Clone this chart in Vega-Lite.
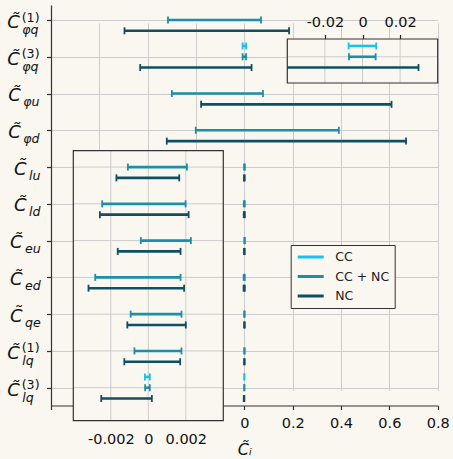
{
  "$schema": "https://vega.github.io/schema/vega-lite/v6.json",
  "width": 386.7,
  "height": 400.5,
  "autosize": {"type": "none"},
  "padding": {"left": 51, "top": 5, "right": 15.3, "bottom": 53.5},
  "background": "#faf7f1",
  "config": {
    "view": {"stroke": null},
    "font": "DejaVu Sans",
    "axis": {"labelFont": "DejaVu Sans", "titleFont": "DejaVu Sans"},
    "tick": {"opacity": 1},
    "rule": {"opacity": 1}
  },
  "datasets": {
    "bars": [
      {"row": 0, "fit": "CC + NC", "lo": -0.316, "hi": 0.069},
      {"row": 0, "fit": "NC", "lo": -0.496, "hi": 0.185},
      {"row": 1, "fit": "CC", "lo": -0.0074, "hi": 0.0073},
      {"row": 1, "fit": "CC + NC", "lo": -0.0072, "hi": 0.0070},
      {"row": 1, "fit": "NC", "lo": -0.431, "hi": 0.0298},
      {"row": 2, "fit": "CC + NC", "lo": -0.300, "hi": 0.077},
      {"row": 2, "fit": "NC", "lo": -0.179, "hi": 0.609},
      {"row": 3, "fit": "CC + NC", "lo": -0.201, "hi": 0.391},
      {"row": 3, "fit": "NC", "lo": -0.321, "hi": 0.669},
      {"row": 4, "fit": "CC + NC", "lo": -0.00109, "hi": 0.00206},
      {"row": 4, "fit": "NC", "lo": -0.00170, "hi": 0.00165},
      {"row": 5, "fit": "CC + NC", "lo": -0.00246, "hi": 0.00199},
      {"row": 5, "fit": "NC", "lo": -0.00258, "hi": 0.00215},
      {"row": 6, "fit": "CC + NC", "lo": -0.00040, "hi": 0.00227},
      {"row": 6, "fit": "NC", "lo": -0.00163, "hi": 0.00172},
      {"row": 7, "fit": "CC + NC", "lo": -0.00283, "hi": 0.00172},
      {"row": 7, "fit": "NC", "lo": -0.00319, "hi": 0.00191},
      {"row": 8, "fit": "CC + NC", "lo": -0.00094, "hi": 0.00177},
      {"row": 8, "fit": "NC", "lo": -0.00112, "hi": 0.00200},
      {"row": 9, "fit": "CC + NC", "lo": -0.00074, "hi": 0.00177},
      {"row": 9, "fit": "NC", "lo": -0.00128, "hi": 0.00170},
      {"row": 10, "fit": "CC", "lo": -0.00018, "hi": 0.00008},
      {"row": 10, "fit": "CC + NC", "lo": -0.00017, "hi": 0.00008},
      {"row": 10, "fit": "NC", "lo": -0.00251, "hi": 0.00019}
    ],
    "labels": [
      {"row": 0, "sub": "φq", "sup": "(1)"},
      {"row": 1, "sub": "φq", "sup": "(3)"},
      {"row": 2, "sub": "φu"},
      {"row": 3, "sub": "φd"},
      {"row": 4, "sub": "lu"},
      {"row": 5, "sub": "ld"},
      {"row": 6, "sub": "eu"},
      {"row": 7, "sub": "ed"},
      {"row": 8, "sub": "qe"},
      {"row": 9, "sub": "lq", "sup": "(1)"},
      {"row": 10, "sub": "lq", "sup": "(3)"}
    ]
  },
  "layer": [
    {
      "layer": [
        {
          "data": {"name": "bars"},
          "layer": [
            {
              "mark": {"type": "rule", "strokeWidth": 2.6, "opacity": 1},
              "encoding": {
                "x": {
                  "field": "lo", "type": "quantitative",
                  "scale": {"domain": [-0.8, 0.8], "nice": false, "zero": false},
                  "axis": {
                    "orient": "bottom",
                    "values": [-0.8, -0.6, -0.4, -0.2, 0, 0.2, 0.4, 0.6, 0.8],
                    "grid": true, "gridColor": "#cccccc", "gridWidth": 1,
                    "domainColor": "#333333", "domainWidth": 1.2,
                    "tickColor": "#333333", "tickSize": 4, "tickWidth": 1.2,
                    "labelExpr": "datum.value < 0 ? '' : format(datum.value, '~g')",
                    "labelFont": "DejaVu Sans", "labelFontSize": 14.5, "labelColor": "#111111",
                    "labelPadding": 6.5, "labelFlush": false, "labelOverlap": false,
                    "title": "C\u0303\u1d62", "titleFont": "DejaVu Sans", "titleFontSize": 16,
                    "titleFontStyle": "italic", "titleFontWeight": "normal", "titleColor": "#111111",
                    "titlePadding": 12
                  }
                },
                "x2": {"field": "hi"},
                "y": {"field": "row", "type": "ordinal", "scale": {"type": "point", "domain": [0, 1, 2, 3, 4, 5, 6, 7, 8, 9, 10], "range": [15, 382.7], "padding": 0}, "axis": null},
                "yOffset": {"field": "fit", "type": "nominal", "scale": {"type": "point", "domain": ["CC", "CC + NC", "NC"], "range": [-10.8, 10.8], "padding": 0}},
                "color": {
                  "field": "fit", "type": "nominal",
                  "scale": {"domain": ["CC", "CC + NC", "NC"], "range": ["#17c3ec", "#1b8ea9", "#0e4f63"]},
                  "legend": {
                    "orient": "none", "legendX": 239.7, "legendY": 240, "title": null,
                    "symbolType": "stroke", "symbolSize": 676, "symbolStrokeWidth": 2.8, "symbolOpacity": 1,
                    "labelFont": "DejaVu Sans", "labelFontSize": 12.5, "labelColor": "#222222",
                    "padding": 5.5, "rowPadding": 6.5, "clipHeight": 13, "labelOffset": 10,
                    "strokeColor": "#333333", "fillColor": "#faf7f1"
                  }
                }
              }
            },
            {
              "mark": {"type": "tick", "orient": "vertical", "size": 7, "thickness": 1.8, "opacity": 1},
              "encoding": {
                "x": {"field": "lo", "type": "quantitative"},
                "y": {"field": "row", "type": "ordinal", "scale": {"type": "point", "domain": [0, 1, 2, 3, 4, 5, 6, 7, 8, 9, 10], "range": [15, 382.7], "padding": 0}, "axis": null},
                "yOffset": {"field": "fit", "type": "nominal", "scale": {"type": "point", "domain": ["CC", "CC + NC", "NC"], "range": [-10.8, 10.8], "padding": 0}},
                "color": {"field": "fit", "type": "nominal"}
              }
            },
            {
              "mark": {"type": "tick", "orient": "vertical", "size": 7, "thickness": 1.8, "opacity": 1},
              "encoding": {
                "x": {"field": "hi", "type": "quantitative"},
                "y": {"field": "row", "type": "ordinal", "scale": {"type": "point", "domain": [0, 1, 2, 3, 4, 5, 6, 7, 8, 9, 10], "range": [15, 382.7], "padding": 0}, "axis": null},
                "yOffset": {"field": "fit", "type": "nominal", "scale": {"type": "point", "domain": ["CC", "CC + NC", "NC"], "range": [-10.8, 10.8], "padding": 0}},
                "color": {"field": "fit", "type": "nominal"}
              }
            }
          ]
        },
        {
          "data": {"name": "labels"},
          "layer": [
            {
              "transform": [{"filter": {"field": "row", "oneOf": [0, 1, 9, 10]}}],
              "mark": {"type": "text", "text": "C\u0303", "font": "DejaVu Sans", "fontSize": 18, "fontStyle": "italic", "align": "left", "baseline": "alphabetic", "dx": -43.7, "dy": 8.3, "color": "#111111"},
              "encoding": {
                "x": {"datum": -0.8, "type": "quantitative"},
                "y": {
                  "field": "row", "type": "quantitative",
                  "scale": {"domain": [-0.408, 10.484], "reverse": true, "nice": false, "zero": false},
                  "axis": {
                    "values": [0, 1, 2, 3, 4, 5, 6, 7, 8, 9, 10],
                    "labels": false, "grid": true, "gridColor": "#cccccc", "gridWidth": 1,
                    "domainColor": "#333333", "domainWidth": 1.2,
                    "tickColor": "#333333", "tickSize": 4.5, "tickWidth": 1.2,
                    "title": null
                  }
                }
              }
            },
            {
              "transform": [{"filter": {"field": "row", "oneOf": [2, 3]}}],
              "mark": {"type": "text", "text": "C\u0303", "font": "DejaVu Sans", "fontSize": 18, "fontStyle": "italic", "align": "left", "baseline": "alphabetic", "dx": -42.7, "dy": 7.5, "color": "#111111"},
              "encoding": {"x": {"datum": -0.8, "type": "quantitative"}, "y": {"field": "row", "type": "quantitative"}}
            },
            {
              "transform": [{"filter": {"field": "row", "oneOf": [6, 7, 8]}}],
              "mark": {"type": "text", "text": "C\u0303", "font": "DejaVu Sans", "fontSize": 18, "fontStyle": "italic", "align": "left", "baseline": "alphabetic", "dx": -41, "dy": 7.5, "color": "#111111"},
              "encoding": {"x": {"datum": -0.8, "type": "quantitative"}, "y": {"field": "row", "type": "quantitative"}}
            },
            {
              "transform": [{"filter": {"field": "row", "oneOf": [4, 5]}}],
              "mark": {"type": "text", "text": "C\u0303", "font": "DejaVu Sans", "fontSize": 18, "fontStyle": "italic", "align": "left", "baseline": "alphabetic", "dx": -37, "dy": 7.5, "color": "#111111"},
              "encoding": {"x": {"datum": -0.8, "type": "quantitative"}, "y": {"field": "row", "type": "quantitative"}}
            },
            {
              "transform": [{"filter": {"field": "row", "oneOf": [0, 1, 9, 10]}}],
              "mark": {"type": "text", "font": "DejaVu Sans", "fontSize": 12.6, "fontStyle": "italic", "align": "left", "baseline": "alphabetic", "dx": -28.8, "dy": 14, "color": "#111111"},
              "encoding": {"x": {"datum": -0.8, "type": "quantitative"}, "y": {"field": "row", "type": "quantitative"}, "text": {"field": "sub"}}
            },
            {
              "transform": [{"filter": {"field": "row", "oneOf": [2, 3]}}],
              "mark": {"type": "text", "font": "DejaVu Sans", "fontSize": 12.6, "fontStyle": "italic", "align": "left", "baseline": "alphabetic", "dx": -27.8, "dy": 12.5, "color": "#111111"},
              "encoding": {"x": {"datum": -0.8, "type": "quantitative"}, "y": {"field": "row", "type": "quantitative"}, "text": {"field": "sub"}}
            },
            {
              "transform": [{"filter": {"field": "row", "oneOf": [6, 7, 8]}}],
              "mark": {"type": "text", "font": "DejaVu Sans", "fontSize": 12.6, "fontStyle": "italic", "align": "left", "baseline": "alphabetic", "dx": -26, "dy": 12.5, "color": "#111111"},
              "encoding": {"x": {"datum": -0.8, "type": "quantitative"}, "y": {"field": "row", "type": "quantitative"}, "text": {"field": "sub"}}
            },
            {
              "transform": [{"filter": {"field": "row", "oneOf": [4, 5]}}],
              "mark": {"type": "text", "font": "DejaVu Sans", "fontSize": 12.6, "fontStyle": "italic", "align": "left", "baseline": "alphabetic", "dx": -22, "dy": 12.5, "color": "#111111"},
              "encoding": {"x": {"datum": -0.8, "type": "quantitative"}, "y": {"field": "row", "type": "quantitative"}, "text": {"field": "sub"}}
            },
            {
              "transform": [{"filter": "isValid(datum.sup)"}],
              "mark": {"type": "text", "font": "DejaVu Sans", "fontSize": 12.6, "align": "left", "baseline": "alphabetic", "dx": -29.3, "dy": 1.5, "color": "#111111"},
              "encoding": {"x": {"datum": -0.8, "type": "quantitative"}, "y": {"field": "row", "type": "quantitative"}, "text": {"field": "sup"}}
            }
          ]
        }
      ],
      "resolve": {"scale": {"y": "independent", "yOffset": "independent"}, "axis": {"y": "independent"}}
    },
    {
      "layer": [
        {
          "layer": [
            {
              "data": {"values": [{"box": 1}]},
              "mark": {"type": "rect", "fill": "#faf7f1"},
              "encoding": {
                "x": {
                  "datum": -0.04, "type": "quantitative",
                  "scale": {"domain": [-0.04, 0.04], "range": [236.3, 386.7], "clamp": true, "nice": false, "zero": false},
                  "axis": {
                    "orient": "top", "offset": -34, "values": [-0.02, 0, 0.02],
                    "grid": false, "domain": false, "ticks": true, "tickSize": 4.5, "tickColor": "#222222", "tickWidth": 1.2,
                    "labelExpr": "(datum.value < 0 ? '-' : '') + format(abs(datum.value), '~g')",
                    "labelFont": "DejaVu Sans", "labelFontSize": 14.5, "labelColor": "#111111",
                    "labelPadding": 4.8, "labelFlush": false, "labelOverlap": false, "title": null
                  }
                },
                "x2": {"datum": 0.04},
                "y": {"datum": 0.517, "type": "quantitative", "scale": {"domain": [-0.408, 10.484], "reverse": true, "nice": false, "zero": false}, "axis": null},
                "y2": {"datum": 1.713}
              }
            },
            {
              "data": {"values": [{"v": -0.02}, {"v": 0}, {"v": 0.02}]},
              "mark": {"type": "rule", "color": "#cccccc", "strokeWidth": 1},
              "encoding": {
                "x": {"field": "v", "type": "quantitative"},
                "y": {"datum": 0.517, "type": "quantitative", "axis": null},
                "y2": {"datum": 1.713}
              }
            },
            {
              "data": {"values": [{"r": 1}]},
              "mark": {"type": "rule", "color": "#cccccc", "strokeWidth": 1},
              "encoding": {
                "x": {"datum": -0.04, "type": "quantitative"},
                "x2": {"datum": 0.04},
                "y": {"field": "r", "type": "quantitative", "axis": null}
              }
            }
          ]
        },
        {
          "data": {"name": "bars"},
          "transform": [{"filter": "datum.row == 1"}],
          "layer": [
            {
              "mark": {"type": "rule", "strokeWidth": 2.6, "opacity": 1},
              "encoding": {
                "x": {"field": "lo", "type": "quantitative"},
                "x2": {"field": "hi"},
                "y": {"field": "row", "type": "ordinal", "scale": {"type": "point", "domain": [0, 1, 2, 3, 4, 5, 6, 7, 8, 9, 10], "range": [15, 382.7], "padding": 0}, "axis": null},
                "yOffset": {"field": "fit", "type": "nominal", "scale": {"type": "point", "domain": ["CC", "CC + NC", "NC"], "range": [-10.8, 10.8], "padding": 0}},
                "color": {"field": "fit", "type": "nominal"}
              }
            },
            {
              "transform": [{"filter": "datum.lo >= -0.04"}],
              "mark": {"type": "tick", "orient": "vertical", "size": 7, "thickness": 1.8, "opacity": 1},
              "encoding": {
                "x": {"field": "lo", "type": "quantitative"},
                "y": {"field": "row", "type": "ordinal", "scale": {"type": "point", "domain": [0, 1, 2, 3, 4, 5, 6, 7, 8, 9, 10], "range": [15, 382.7], "padding": 0}, "axis": null},
                "yOffset": {"field": "fit", "type": "nominal", "scale": {"type": "point", "domain": ["CC", "CC + NC", "NC"], "range": [-10.8, 10.8], "padding": 0}},
                "color": {"field": "fit", "type": "nominal"}
              }
            },
            {
              "transform": [{"filter": "datum.hi <= 0.04"}],
              "mark": {"type": "tick", "orient": "vertical", "size": 7, "thickness": 1.8, "opacity": 1},
              "encoding": {
                "x": {"field": "hi", "type": "quantitative"},
                "y": {"field": "row", "type": "ordinal", "scale": {"type": "point", "domain": [0, 1, 2, 3, 4, 5, 6, 7, 8, 9, 10], "range": [15, 382.7], "padding": 0}, "axis": null},
                "yOffset": {"field": "fit", "type": "nominal", "scale": {"type": "point", "domain": ["CC", "CC + NC", "NC"], "range": [-10.8, 10.8], "padding": 0}},
                "color": {"field": "fit", "type": "nominal"}
              }
            }
          ]
        },
        {
          "data": {"values": [{"box": 1}]},
          "mark": {"type": "rect", "filled": false, "stroke": "#333333", "strokeWidth": 1.2},
          "encoding": {
            "x": {"datum": -0.04, "type": "quantitative"},
            "x2": {"datum": 0.04},
            "y": {"datum": 0.517, "type": "quantitative", "scale": {"domain": [-0.408, 10.484], "reverse": true, "nice": false, "zero": false}, "axis": null},
            "y2": {"datum": 1.713}
          }
        }
      ],
      "resolve": {"scale": {"y": "independent", "yOffset": "independent"}, "axis": {"y": "independent"}}
    },
    {
      "layer": [
        {
          "layer": [
            {
              "data": {"values": [{"box": 1}]},
              "mark": {"type": "rect", "fill": "#faf7f1"},
              "encoding": {
                "x": {
                  "datum": -0.004, "type": "quantitative",
                  "scale": {"domain": [-0.004, 0.004], "range": [22.3, 172.3], "clamp": true, "nice": false, "zero": false},
                  "axis": {
                    "orient": "bottom", "offset": 15.2, "values": [-0.002, 0, 0.002],
                    "grid": false, "domain": false, "ticks": false, "tickSize": 0,
                    "labelExpr": "(datum.value < 0 ? '-' : '') + format(abs(datum.value), '~g')",
                    "labelFont": "DejaVu Sans", "labelFontSize": 14.5, "labelColor": "#111111",
                    "labelPadding": 11.7, "labelFlush": false, "labelOverlap": false, "title": null
                  }
                },
                "x2": {"datum": 0.004},
                "y": {"datum": 3.554, "type": "quantitative", "scale": {"domain": [-0.408, 10.484], "reverse": true, "nice": false, "zero": false}, "axis": null},
                "y2": {"datum": 10.897}
              }
            },
            {
              "data": {"values": [{"v": -0.002}, {"v": 0}, {"v": 0.002}]},
              "mark": {"type": "rule", "color": "#cccccc", "strokeWidth": 1},
              "encoding": {
                "x": {"field": "v", "type": "quantitative"},
                "y": {"datum": 3.554, "type": "quantitative", "axis": null},
                "y2": {"datum": 10.897}
              }
            },
            {
              "data": {"values": [{"r": 4}, {"r": 5}, {"r": 6}, {"r": 7}, {"r": 8}, {"r": 9}, {"r": 10}]},
              "mark": {"type": "rule", "color": "#cccccc", "strokeWidth": 1},
              "encoding": {
                "x": {"datum": -0.004, "type": "quantitative"},
                "x2": {"datum": 0.004},
                "y": {"field": "r", "type": "quantitative", "axis": null}
              }
            }
          ]
        },
        {
          "data": {"name": "bars"},
          "transform": [{"filter": "datum.row >= 4"}],
          "layer": [
            {
              "mark": {"type": "rule", "strokeWidth": 2.6, "opacity": 1},
              "encoding": {
                "x": {"field": "lo", "type": "quantitative"},
                "x2": {"field": "hi"},
                "y": {"field": "row", "type": "ordinal", "scale": {"type": "point", "domain": [0, 1, 2, 3, 4, 5, 6, 7, 8, 9, 10], "range": [15, 382.7], "padding": 0}, "axis": null},
                "yOffset": {"field": "fit", "type": "nominal", "scale": {"type": "point", "domain": ["CC", "CC + NC", "NC"], "range": [-10.8, 10.8], "padding": 0}},
                "color": {"field": "fit", "type": "nominal"}
              }
            },
            {
              "mark": {"type": "tick", "orient": "vertical", "size": 7, "thickness": 1.8, "opacity": 1},
              "encoding": {
                "x": {"field": "lo", "type": "quantitative"},
                "y": {"field": "row", "type": "ordinal", "scale": {"type": "point", "domain": [0, 1, 2, 3, 4, 5, 6, 7, 8, 9, 10], "range": [15, 382.7], "padding": 0}, "axis": null},
                "yOffset": {"field": "fit", "type": "nominal", "scale": {"type": "point", "domain": ["CC", "CC + NC", "NC"], "range": [-10.8, 10.8], "padding": 0}},
                "color": {"field": "fit", "type": "nominal"}
              }
            },
            {
              "mark": {"type": "tick", "orient": "vertical", "size": 7, "thickness": 1.8, "opacity": 1},
              "encoding": {
                "x": {"field": "hi", "type": "quantitative"},
                "y": {"field": "row", "type": "ordinal", "scale": {"type": "point", "domain": [0, 1, 2, 3, 4, 5, 6, 7, 8, 9, 10], "range": [15, 382.7], "padding": 0}, "axis": null},
                "yOffset": {"field": "fit", "type": "nominal", "scale": {"type": "point", "domain": ["CC", "CC + NC", "NC"], "range": [-10.8, 10.8], "padding": 0}},
                "color": {"field": "fit", "type": "nominal"}
              }
            }
          ]
        },
        {
          "data": {"values": [{"box": 1}]},
          "mark": {"type": "rect", "filled": false, "stroke": "#333333", "strokeWidth": 1.2},
          "encoding": {
            "x": {"datum": -0.004, "type": "quantitative"},
            "x2": {"datum": 0.004},
            "y": {"datum": 3.554, "type": "quantitative", "scale": {"domain": [-0.408, 10.484], "reverse": true, "nice": false, "zero": false}, "axis": null},
            "y2": {"datum": 10.897}
          }
        }
      ],
      "resolve": {"scale": {"y": "independent", "yOffset": "independent"}, "axis": {"y": "independent"}}
    }
  ],
  "resolve": {"scale": {"x": "independent", "y": "independent", "yOffset": "independent"}, "axis": {"x": "independent", "y": "independent"}}
}
